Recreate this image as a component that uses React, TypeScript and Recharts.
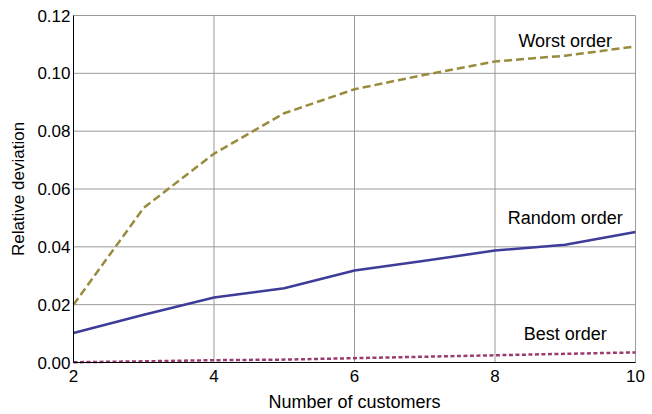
import React from 'react';
import { LineChart, Line, XAxis, YAxis, CartesianGrid, ReferenceDot, Label } from 'recharts';

const customers = [2, 3, 4, 5, 6, 7, 8, 9, 10];
const worstOrder = [0.0200, 0.0535, 0.0722, 0.0862, 0.0945, 0.0995, 0.1041, 0.1061, 0.1093];
const randomOrder = [0.0102, 0.0165, 0.0225, 0.0257, 0.0318, 0.0352, 0.0387, 0.0407, 0.0451];
const bestOrder = [0.0001, 0.0004, 0.0008, 0.0010, 0.0015, 0.0020, 0.0025, 0.0030, 0.0035];

const xTicks = [2, 4, 6, 8, 10];
const xMinorTicks = [2, 2.5, 3, 3.5, 4, 4.5, 5, 5.5, 6, 6.5, 7, 7.5, 8, 8.5, 9, 9.5, 10];
const yTicks = [0, 0.02, 0.04, 0.06, 0.08, 0.1, 0.12];
const yMinorTicks = [0, 0.005, 0.01, 0.015, 0.02, 0.025, 0.03, 0.035, 0.04, 0.045, 0.05, 0.055, 0.06, 0.065, 0.07, 0.075, 0.08, 0.085, 0.09, 0.095, 0.1, 0.105, 0.11, 0.115, 0.12];

const seriesLabels = [
  { name: 'Worst order', x: 9, y: 0.1115 },
  { name: 'Random order', x: 9, y: 0.0500 },
  { name: 'Best order', x: 9, y: 0.0099 },
];

const data = customers.map((c, i) => ({
  x: c,
  worst: worstOrder[i],
  random: randomOrder[i],
  best: bestOrder[i],
}));

const FONT = '"Liberation Sans", Arial, Helvetica, sans-serif';
const COLORS = { worst: '#998B3D', random: '#3D3D99', best: '#993D71' };

const XTick = (props: any) => {
  const { x, y, payload } = props;
  return (
    <text x={x} y={y} dy="0.71em" textAnchor="middle" fontSize={17} fontFamily={FONT} fill="#000">
      {payload.value}
    </text>
  );
};

const YTick = (props: any) => {
  const { x, y, payload } = props;
  return (
    <text x={x} y={y} dy="0.36em" textAnchor="end" fontSize={17} fontFamily={FONT} fill="#000">
      {Number(payload.value).toFixed(2)}
    </text>
  );
};

const SeriesText = (name: string) => (props: any) => {
  const { cx, cy } = props;
  return (
    <text x={cx} y={cy} dy="0.36em" textAnchor="middle" fontSize={18} fontFamily={FONT} fill="#000">
      {name}
    </text>
  );
};

const XTitle = (props: any) => {
  const vb = props.viewBox || {};
  const cx = (vb.x ?? 73.5) + (vb.width ?? 562) / 2;
  return (
    <text x={cx} y={408} textAnchor="middle" fontSize={18} fontFamily={FONT} fill="#000">
      Number of customers
    </text>
  );
};

const YTitle = (props: any) => {
  const vb = props.viewBox || {};
  const cx = 24;
  const cy = (vb.y ?? 15.5) + (vb.height ?? 347) / 2;
  return (
    <text x={cx} y={cy} transform={`rotate(-90, ${cx}, ${cy})`} textAnchor="middle" fontSize={17} fontFamily={FONT} fill="#000">
      Relative deviation
    </text>
  );
};

export default function App() {
  return (
    <div style={{ width: 652, height: 414, background: '#fff' }}>
      <style>{'html,body{margin:0;padding:0;overflow:hidden;}'}</style>
      <LineChart width={652} height={414} data={data} margin={{ top: 15.5, right: 16.5, bottom: 6.5, left: 0 }}>
        <CartesianGrid stroke="#9a9a9a" strokeWidth={1} />
        <XAxis
          xAxisId={0}
          dataKey="x"
          type="number"
          domain={[2, 10]}
          ticks={xTicks}
          height={45}
          tickSize={0}
          tickMargin={7}
          tickLine={false}
          axisLine={{ stroke: '#000' }}
          tick={<XTick />}
        >
          <Label content={<XTitle />} />
        </XAxis>
        <XAxis xAxisId="bMinor" type="number" domain={[2, 10]} ticks={xMinorTicks} mirror height={0} tick={false} tickSize={3.5} tickLine={{ stroke: '#000' }} axisLine={false} />
        <XAxis xAxisId="bMajor" type="number" domain={[2, 10]} ticks={xTicks} mirror height={0} tick={false} tickSize={6} tickLine={{ stroke: '#000' }} axisLine={false} />
        <XAxis xAxisId="tMinor" orientation="top" type="number" domain={[2, 10]} ticks={xMinorTicks} mirror height={0} tick={false} tickSize={3.5} tickLine={{ stroke: '#000' }} axisLine={{ stroke: '#000' }} />
        <XAxis xAxisId="tMajor" orientation="top" type="number" domain={[2, 10]} ticks={xTicks} mirror height={0} tick={false} tickSize={6} tickLine={{ stroke: '#000' }} axisLine={false} />
        <YAxis
          yAxisId={0}
          type="number"
          domain={[0, 0.12]}
          ticks={yTicks}
          width={73.5}
          tickSize={0}
          tickMargin={3}
          tickLine={false}
          axisLine={{ stroke: '#000' }}
          tick={<YTick />}
        >
          <Label content={<YTitle />} />
        </YAxis>
        <YAxis yAxisId="lMinor" type="number" domain={[0, 0.12]} ticks={yMinorTicks} mirror width={0} tick={false} tickSize={3.5} tickLine={{ stroke: '#000' }} axisLine={false} />
        <YAxis yAxisId="lMajor" type="number" domain={[0, 0.12]} ticks={yTicks} mirror width={0} tick={false} tickSize={6} tickLine={{ stroke: '#000' }} axisLine={false} />
        <YAxis yAxisId="rMinor" orientation="right" type="number" domain={[0, 0.12]} ticks={yMinorTicks} mirror width={0} tick={false} tickSize={3.5} tickLine={{ stroke: '#000' }} axisLine={{ stroke: '#000' }} />
        <YAxis yAxisId="rMajor" orientation="right" type="number" domain={[0, 0.12]} ticks={yTicks} mirror width={0} tick={false} tickSize={6} tickLine={{ stroke: '#000' }} axisLine={false} />
        <Line dataKey="worst" type="linear" stroke={COLORS.worst} strokeWidth={2.5} strokeDasharray="8 4" dot={false} isAnimationActive={false} />
        <Line dataKey="random" type="linear" stroke={COLORS.random} strokeWidth={2.5} dot={false} isAnimationActive={false} />
        <Line dataKey="best" type="linear" stroke={COLORS.best} strokeWidth={2.5} strokeDasharray="4 2.5" dot={false} isAnimationActive={false} />
        {seriesLabels.map((s) => (
          <ReferenceDot key={s.name} x={s.x} y={s.y} r={0} ifOverflow="visible" shape={SeriesText(s.name)} />
        ))}
      </LineChart>
    </div>
  );
}
